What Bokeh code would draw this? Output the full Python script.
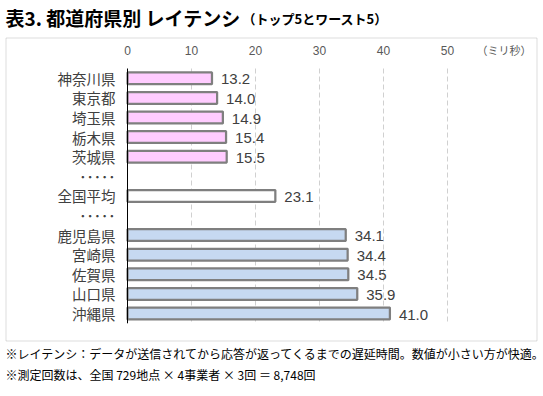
from bokeh.plotting import figure
from bokeh.models import ColumnDataSource, Range1d, BoxAnnotation, Label
from bokeh.embed import file_html
from bokeh.resources import INLINE
from bokeh.core.properties import value

# ---- data ----
categories = ["神奈川県", "東京都", "埼玉県", "栃木県", "茨城県", "･････",
              "全国平均", "･････", "鹿児島県", "宮崎県", "佐賀県", "山口県", "沖縄県"]
latency_ms = [13.2, 14.0, 14.9, 15.4, 15.5, None, 23.1, None, 34.1, 34.4, 34.5, 35.9, 41.0]
groups = ["top", "top", "top", "top", "top", "sep", "avg", "sep",
          "worst", "worst", "worst", "worst", "worst"]
x_ticks = [0, 10, 20, 30, 40, 50]

title_main = "表3. 都道府県別 レイテンシ"
title_sub = "（トップ5とワースト5）"
unit_label = "（ミリ秒）"
note1 = "※レイテンシ：データが送信されてから応答が返ってくるまでの遅延時間。数値が小さい方が快適。"
note2 = "※測定回数は、全国 729地点 × 4事業者 × 3回 ＝ 8,748回"

fill_map = {"top": "#FFCCFF", "avg": "#FFFFFF", "worst": "#C6D9F1"}

n = len(categories)
rows = [i for i, v in enumerate(latency_ms) if v is not None]
bar_src = ColumnDataSource(dict(
    y=rows,
    x=[latency_ms[i] for i in rows],
    label=[f"{latency_ms[i]:.1f}" for i in rows],
    fill=[fill_map[groups[i]] for i in rows],
))
cat_src = ColumnDataSource(dict(y=list(range(n)), x=[0] * n, name=categories))
tick_src = ColumnDataSource(dict(
    x=x_ticks, y=[-0.5] * len(x_ticks),
    label=[str(t) for t in x_ticks],
))
grid_src = ColumnDataSource(dict(
    x=x_ticks[1:], y0=[-0.5] * (len(x_ticks) - 1), y1=[n - 0.5] * (len(x_ticks) - 1),
))

JP = "Noto Sans CJK JP"
NUM = "Liberation Sans"

W, H = 543, 396
PX_PER_UNIT = 6.4   # 10 ms = 64 px
ZERO_X = 127        # pixel position of 0 ms
ROW_PX = 19.6
ROW0_Y = 77.8

x0 = -ZERO_X / PX_PER_UNIT
y_top = -ROW0_Y / ROW_PX
p = figure(width=W, height=H, output_backend="svg", toolbar_location=None,
           x_range=Range1d(x0, x0 + W / PX_PER_UNIT),
           y_range=Range1d(y_top + H / ROW_PX, y_top),
           x_axis_location=None, y_axis_location=None,
           min_border=0, min_border_left=0, min_border_right=0,
           min_border_top=0, min_border_bottom=0,
           outline_line_color=None, background_fill_color="white",
           border_fill_color="white")
p.grid.visible = False

# dashed gridlines
p.segment(x0="x", y0="y0", x1="x", y1="y1", line_color="#D0D0D0",
          line_width=1, line_dash="5 3", source=grid_src)

# bars
p.hbar(y="y", left=0, right="x", height=0.6, fill_color="fill",
       line_color="#7F7F7F", line_width=2.25, source=bar_src)

# vertical axis line at 0
p.segment(x0=0, y0=-0.5, x1=0, y1=n - 0.5, line_color="black", line_width=1)

# value labels
p.text(x="x", y="y", text="label", x_offset=9, y_offset=1,
       text_baseline="middle", text_align="left",
       text_font=value(NUM), text_font_size="15px", text_color="#404040",
       source=bar_src)

# category labels
p.text(x="x", y="y", text="name", x_offset=-12,
       text_baseline="middle", text_align="right",
       text_font=value(JP), text_font_size="14.5px", text_color="#404040",
       source=cat_src)

# tick labels (top)
p.text(x="x", y="y", text="label", y_offset=-18,
       text_baseline="middle", text_align="center",
       text_font=value(NUM), text_font_size="12px", text_color="#595959",
       source=tick_src)

# outer box
p.add_layout(BoxAnnotation(left=5.5, right=536.5, top=37.5, bottom=340.5,
                           left_units="canvas", right_units="canvas",
                           top_units="canvas", bottom_units="canvas",
                           fill_color=None, fill_alpha=0,
                           line_color="#8C8C8C", line_width=1))

# texts
p.add_layout(Label(x=5, y=17, x_units="canvas", y_units="canvas", text=title_main,
                   text_font=JP, text_font_size="19px", text_font_style="bold",
                   text_color="black", text_baseline="middle"))
p.add_layout(Label(x=242, y=18, x_units="canvas", y_units="canvas", text=title_sub,
                   text_font=JP, text_font_size="13px", text_font_style="bold",
                   text_color="black", text_baseline="middle"))
p.add_layout(Label(x=476, y=49, x_units="canvas", y_units="canvas", text=unit_label,
                   text_font=JP, text_font_size="11px",
                   text_color="#595959", text_baseline="middle"))
p.add_layout(Label(x=5, y=353, x_units="canvas", y_units="canvas", text=note1,
                   text_font=JP, text_font_size="12px",
                   text_color="black", text_baseline="middle"))
p.add_layout(Label(x=5, y=374, x_units="canvas", y_units="canvas", text=note2,
                   text_font=JP, text_font_size="12px",
                   text_color="black", text_baseline="middle"))

open("out.html", "w").write(file_html(p, INLINE))
